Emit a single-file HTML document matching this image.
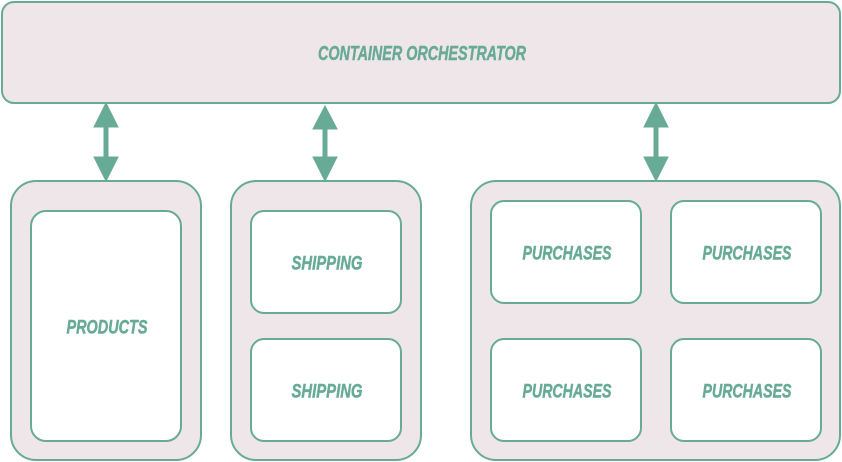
<!DOCTYPE html>
<html><head><meta charset="utf-8"><style>
html,body{margin:0;padding:0;background:#fff;}
svg{display:block}
text{font-family:"Liberation Sans",sans-serif;font-weight:bold;font-style:italic;fill:#67ab96;stroke:#67ab96;stroke-width:0.5;text-anchor:middle;dominant-baseline:central}
</style></head><body>
<svg width="842" height="462" viewBox="0 0 842 462">
<g fill="#efe6e9" stroke="#67ab96" stroke-width="2">
<rect x="2" y="2" width="838" height="101" rx="12"/>
<rect x="11" y="181" width="190" height="279" rx="25"/>
<rect x="231" y="181" width="190" height="279" rx="25"/>
<rect x="471" y="181" width="369" height="279" rx="25"/>
</g>
<g fill="#fff" stroke="#67ab96" stroke-width="2">
<rect x="31" y="211" width="150" height="230" rx="15"/>
<rect x="251" y="211" width="150" height="102" rx="13"/>
<rect x="251" y="339" width="150" height="102" rx="13"/>
<rect x="491" y="201" width="150" height="102" rx="13"/>
<rect x="671" y="201" width="150" height="102" rx="13"/>
<rect x="491" y="339" width="150" height="102" rx="13"/>
<rect x="671" y="339" width="150" height="102" rx="13"/>
</g>
<g fill="#67ab96" stroke="#67ab96">
<line x1="106" y1="120" x2="106" y2="164" stroke-width="5"/>
<polygon points="106,103 94,127 118,127"/><polygon points="106,181 94,157 118,157"/>
<line x1="325" y1="122" x2="325" y2="164" stroke-width="5"/>
<polygon points="325,106 313,129 337,129"/><polygon points="325,181 313,157 337,157"/>
<line x1="656" y1="120" x2="656" y2="164" stroke-width="5"/>
<polygon points="656,103 644,127 668,127"/><polygon points="656,181 644,157 668,157"/>
</g>
<text x="422" y="54" font-size="20" textLength="208" lengthAdjust="spacingAndGlyphs">CONTAINER ORCHESTRATOR</text>
<text x="107" y="328" font-size="19" textLength="81" lengthAdjust="spacingAndGlyphs">PRODUCTS</text>
<text x="327" y="264" font-size="19" textLength="71" lengthAdjust="spacingAndGlyphs">SHIPPING</text>
<text x="327" y="392" font-size="19" textLength="71" lengthAdjust="spacingAndGlyphs">SHIPPING</text>
<text x="567" y="254" font-size="19" textLength="89" lengthAdjust="spacingAndGlyphs">PURCHASES</text>
<text x="747" y="254" font-size="19" textLength="89" lengthAdjust="spacingAndGlyphs">PURCHASES</text>
<text x="567" y="392" font-size="19" textLength="89" lengthAdjust="spacingAndGlyphs">PURCHASES</text>
<text x="747" y="392" font-size="19" textLength="89" lengthAdjust="spacingAndGlyphs">PURCHASES</text>
</svg>
</body></html>
